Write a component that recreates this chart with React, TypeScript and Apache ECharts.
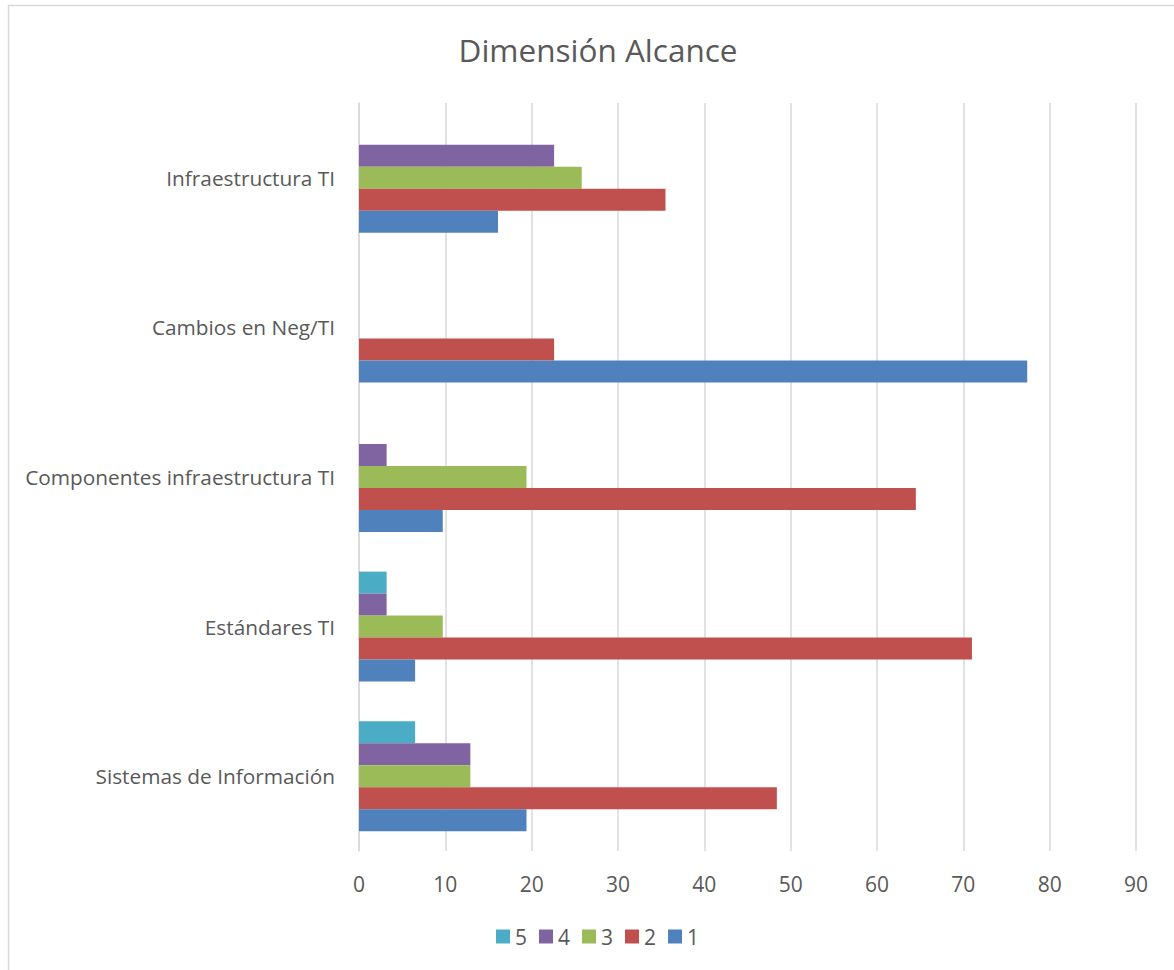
import React, { useEffect, useRef } from "react";
import * as echarts from "echarts";

const categories = [
  "Sistemas de Información",
  "Estándares TI",
  "Componentes infraestructura TI",
  "Cambios en Neg/TI",
  "Infraestructura TI",
];
const seriesNames = ["5", "4", "3", "2", "1"];
const values5 = [6.5, 3.2, 0, 0, 0];
const values4 = [12.9, 3.2, 3.2, 0, 22.6];
const values3 = [12.9, 9.7, 19.4, 0, 25.8];
const values2 = [48.4, 71.0, 64.5, 22.6, 35.5];
const values1 = [19.4, 6.5, 9.7, 77.4, 16.1];
const seriesValues = [values5, values4, values3, values2, values1];
const colors = ["#4BACC6", "#8064A2", "#9BBB59", "#C0504D", "#4F81BD"];
const xTicks = { min: 0, max: 90, interval: 10 };

const FONT = "'Open Sans', 'Noto Sans', sans-serif";
const TXT = "#595959";

export default function App() {
  const ref = useRef<HTMLDivElement>(null);
  useEffect(() => {
    if (!ref.current) return;
    const chart = echarts.init(ref.current, undefined, { renderer: "svg" });
    chart.setOption({
      animation: false,
      backgroundColor: "#ffffff",
      title: {
        text: "Dimensión Alcance",
        left: 593,
        top: 28,
        textAlign: "center",
        textStyle: { fontFamily: FONT, fontSize: 31.5, fontWeight: "normal", color: TXT },
      },
      graphic: [
        {
          type: "rect",
          shape: { x: 8.5, y: 5.5, width: 1200, height: 1000 },
          style: { fill: "none", stroke: "#D9D9D9", lineWidth: 1.5 },
          silent: true,
        },
      ],
      legend: {
        data: seriesNames,
        bottom: 18,
        left: 491,
        itemWidth: 14,
        itemHeight: 14,
        itemGap: 12,
        icon: "rect",
        textStyle: { fontFamily: FONT, fontSize: 21, color: TXT },
      },
      grid: { left: 359, right: 38, top: 103, bottom: 119, containLabel: false },
      xAxis: {
        type: "value",
        min: xTicks.min,
        max: xTicks.max,
        interval: xTicks.interval,
        axisLine: { show: false },
        axisTick: { show: false },
        splitLine: { lineStyle: { color: "#D9D9D9", width: 1.5 } },
        axisLabel: { fontFamily: FONT, fontSize: 21, color: TXT, margin: 22 },
      },
      yAxis: {
        type: "category",
        data: categories,
        axisLine: { show: true, lineStyle: { color: "#D9D9D9", width: 1.5 } },
        axisTick: { show: false },
        axisLabel: { fontFamily: FONT, fontSize: 20.8, color: TXT, margin: 24 },
      },
      series: seriesNames.map((name, i) => ({
        name,
        type: "bar",
        data: seriesValues[i],
        barGap: "0%",
        barCategoryGap: "26.5%",
        itemStyle: { color: colors[i] },
      })),
    });
    return () => chart.dispose();
  }, []);
  return (
    <div
      ref={ref}
      style={{ position: "absolute", left: 0, top: 0, width: 1174, height: 970 }}
    />
  );
}
